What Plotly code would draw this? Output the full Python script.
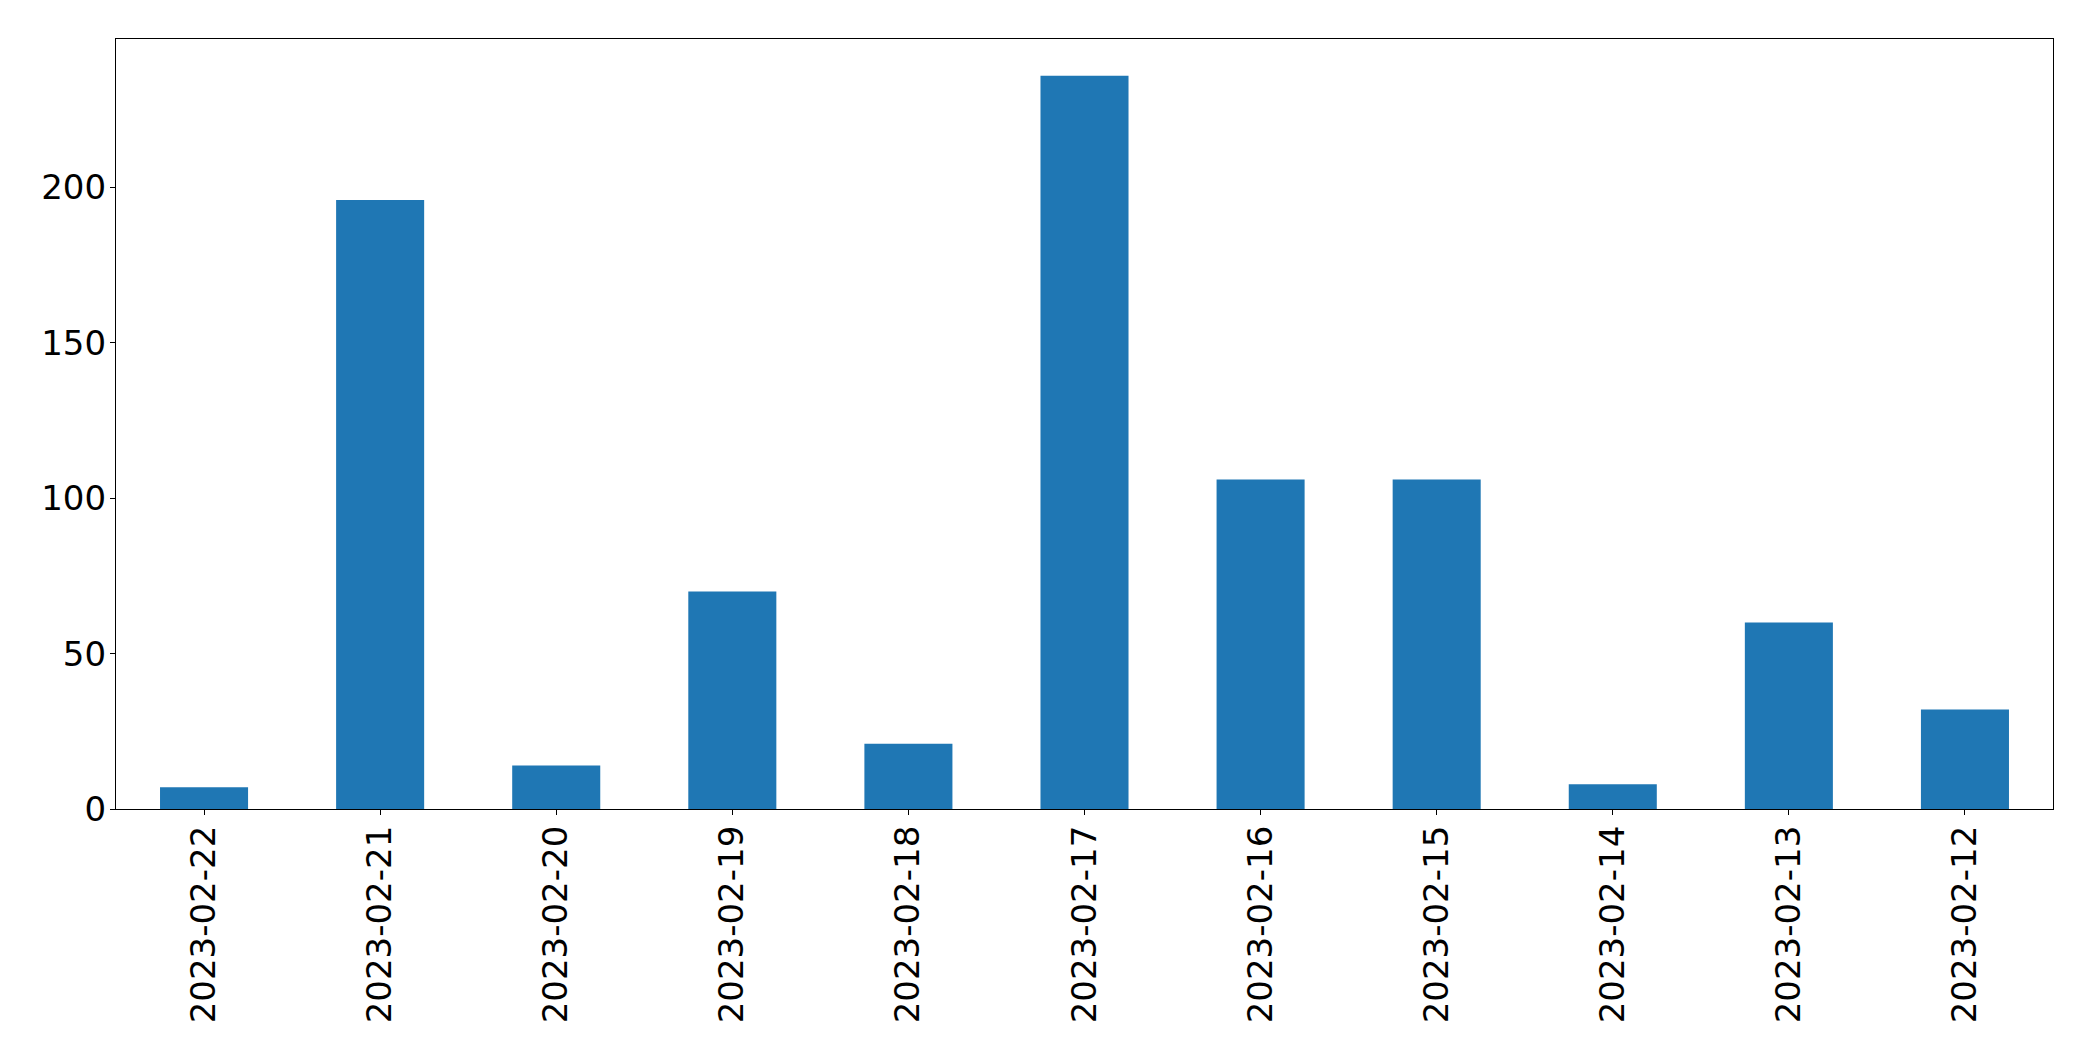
import plotly.graph_objects as go

dates = ["2023-02-22", "2023-02-21", "2023-02-20", "2023-02-19", "2023-02-18",
         "2023-02-17", "2023-02-16", "2023-02-15", "2023-02-14", "2023-02-13", "2023-02-12"]
counts = [7, 196, 14, 70, 21, 236, 106, 106, 8, 60, 32]
y_ticks = [0, 50, 100, 150, 200]

fig = go.Figure(go.Bar(x=dates, y=counts, width=0.5, marker=dict(color="#1f77b4", line=dict(width=0))))

font = dict(family="DejaVu Sans", size=34, color="black")
fig.update_layout(
    width=2093, height=1061,
    margin=dict(l=108, r=48, t=31, b=260),
    paper_bgcolor="white", plot_bgcolor="white",
    showlegend=False,
    font=font,
)
fig.update_xaxes(
    type="category", range=[-0.5, len(dates) - 0.5],
    tickangle=-90, ticks="outside", ticklen=5, tickwidth=1.3, tickcolor="black",
    showline=True, linecolor="black", linewidth=1.3, mirror=True,
    showgrid=False, zeroline=False, tickfont=font, ticklabelstandoff=-3,
)
fig.update_yaxes(
    range=[0, max(counts) * 1.05], tickvals=y_ticks,
    ticks="outside", ticklen=5, tickwidth=1.3, tickcolor="black",
    showline=True, linecolor="black", linewidth=1.3, mirror=True,
    showgrid=False, zeroline=False, tickfont=font, ticklabelstandoff=-3,
)
fig.write_html("out.html")
